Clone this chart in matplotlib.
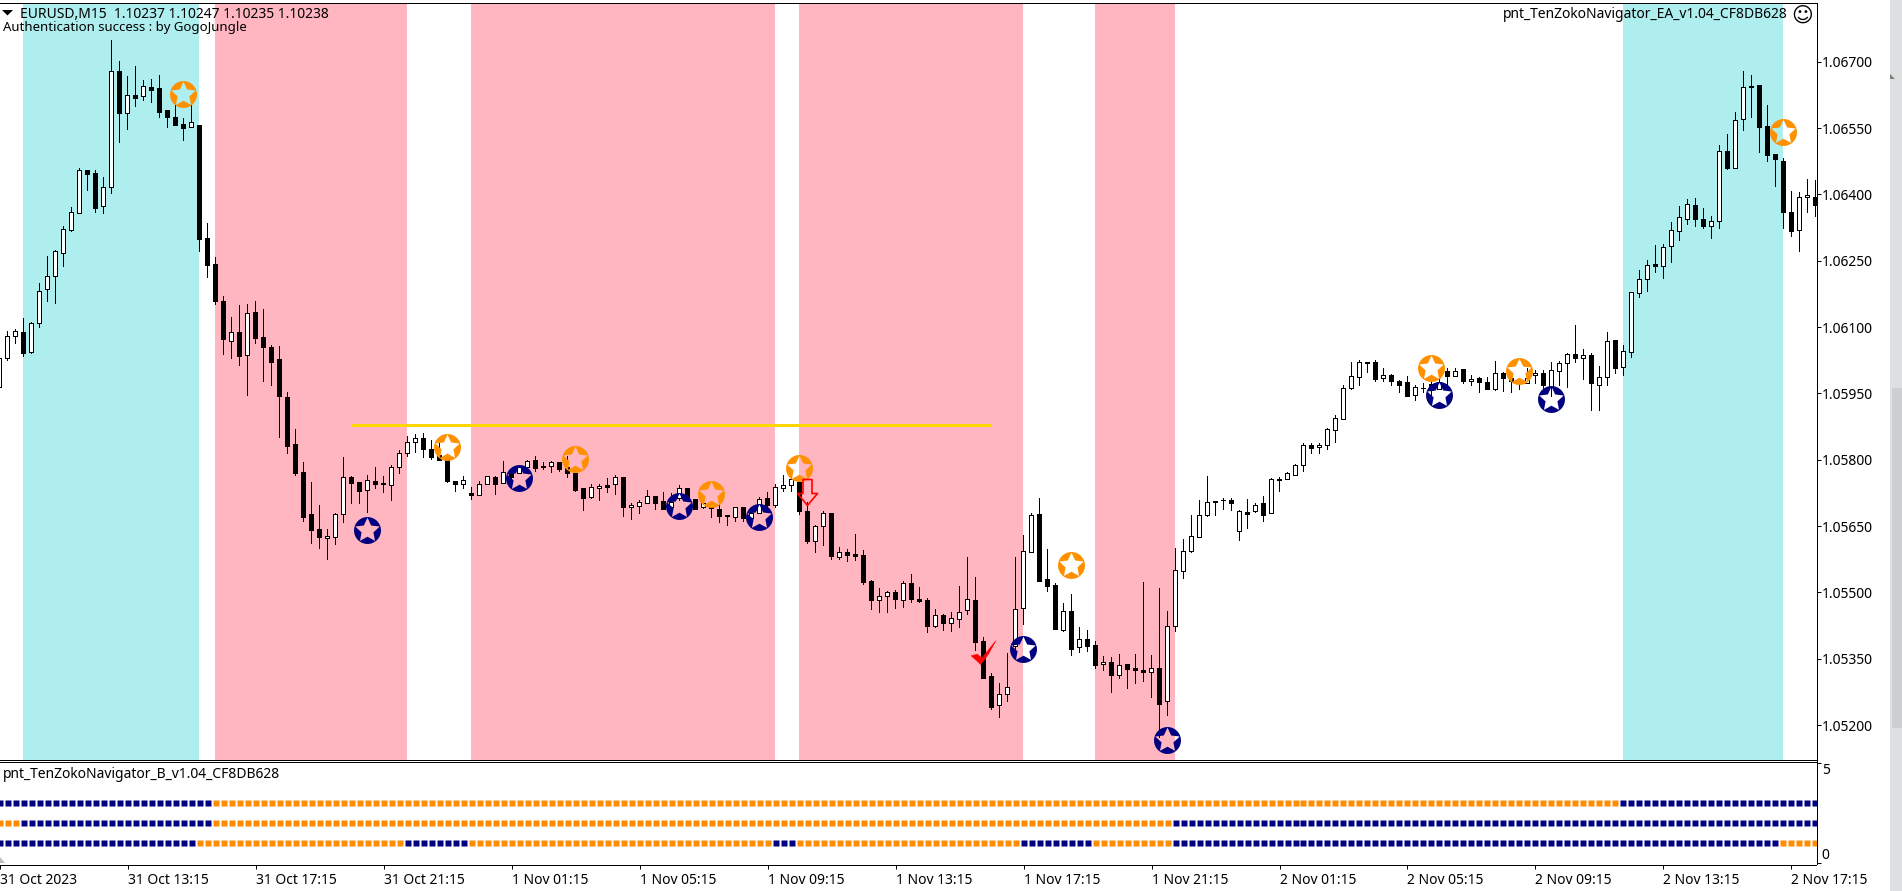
import numpy as np
import matplotlib
matplotlib.use('Agg')
import matplotlib.pyplot as plt
from matplotlib.path import Path
from matplotlib.transforms import ScaledTranslation

plt.rcParams['font.family'] = ['Noto Sans', 'DejaVu Sans']

W, H = 1902, 891

# EURUSD M15 candles, prices in points (1e-5)
opens = [105964,106029,106079,106088,106044,106109,106185,106216,106268,106320,
106359,106455,106448,106373,106416,106679,106583,106624,106622,106642,
106641,106591,106575,106559,106552,106557,106302,106242,106158,106068,
106088,106036,106134,106077,106054,106027,105941,105835,105772,105677,
105643,105622,105625,105677,105760,105749,105731,105751,105747,105742,
105783,105815,105840,105849,105824,105811,105800,105752,105744,105725,
105721,105746,105760,105748,105770,105771,105783,105799,105786,105785,
105794,105784,105771,105735,105715,105735,105742,105744,105760,105692,
105696,105703,105719,105706,105692,105713,105737,105711,105692,105692,
105689,105674,105671,105692,105669,105680,105713,105698,105737,105742,
105750,105684,105617,105649,105679,105581,105591,105586,105584,105525,
105483,105492,105500,105483,105521,105484,105482,105425,105448,105431,
105439,105459,105482,105389,105310,105245,105270,105379,105465,105592,
105677,105530,105516,105416,105457,105376,105394,105380,105337,105342,
105314,105337,105328,105324,105321,105328,105254,105423,105548,105594,
105626,105676,105704,105710,105708,105638,105681,105683,105701,105679,
105755,105756,105766,105787,105833,105828,105833,105867,105892,105962,
105987,106019,106021,105984,105991,105977,105975,105946,105963,105971,
105959,106000,105989,106005,105977,105984,105975,105961,105996,105984,
105977,105973,105991,105996,105965,106000,106018,106039,106030,106036,
105968,105987,106070,106009,106043,106177,106208,106242,106238,106283,
106317,106344,106376,106344,106328,106339,106498,106459,106570,106645,
106647,106554,106491,106475,106360,106319,106394,106395]
highs = [106030,106091,106096,106121,106112,106200,106261,106274,106329,106372,
106459,106455,106455,106440,106749,106702,106668,106691,106659,106661,
106670,106591,106610,106573,106602,106557,106336,106259,106170,106123,
106150,106152,106159,106141,106059,106057,105953,105870,105795,105750,
105698,105643,105679,105806,105763,105749,105765,105784,105763,105787,
105821,105854,105858,105861,105845,105838,105800,105752,105763,105738,
105752,105763,105763,105796,105777,105788,105800,105808,105795,105796,
105794,105808,105771,105737,105744,105744,105758,105765,105760,105701,
105709,105731,105719,105726,105725,105742,105737,105711,105705,105702,
105697,105674,105694,105692,105680,105715,105727,105744,105765,105770,
105756,105705,105652,105683,105679,105602,105597,105631,105595,105527,
105509,105502,105505,105525,105541,105511,105487,105462,105450,105456,
105514,105579,105534,105398,105317,105294,105362,105579,105629,105679,
105713,105597,105521,105475,105496,105421,105416,105389,105355,105353,
105361,105337,105361,105523,105358,105510,105458,105600,105620,105675,
105709,105763,105707,105713,105713,105686,105711,105701,105717,105758,
105760,105772,105790,105837,105837,105837,105872,105901,105968,106021,
106025,106021,106025,106007,105993,105980,105989,105968,105973,105977,
105991,106007,106007,106005,105991,105987,105987,106023,105998,105984,
105977,106007,106002,106002,106021,106023,106041,106105,106050,106041,
106011,106088,106070,106059,106179,106229,106251,106285,106287,106337,
106373,106389,106391,106369,106351,106511,106536,106586,106679,106670,
106647,106602,106491,106482,106407,106405,106434,106432]
lows = [105962,106026,106065,106035,106042,106101,106158,106155,106238,106318,
106358,106409,106361,106357,106404,106519,106549,106601,106614,106608,
106574,106553,106556,106522,106552,106273,106214,106152,106038,106029,
106015,105947,106063,105979,105970,105852,105816,105766,105662,105612,
105601,105576,105610,105660,105701,105701,105682,105735,105728,105710,
105771,105809,105818,105807,105802,105800,105750,105730,105737,105712,
105721,105744,105723,105748,105754,105769,105781,105775,105779,105773,
105775,105762,105730,105687,105714,105710,105728,105723,105673,105667,
105680,105703,105689,105688,105691,105709,105711,105689,105690,105671,
105660,105652,105662,105662,105668,105679,105695,105694,105730,105729,
105677,105612,105592,105606,105576,105576,105572,105574,105520,105463,
105456,105456,105465,105468,105479,105479,105411,105421,105416,105413,
105422,105452,105370,105307,105237,105217,105255,105370,105429,105592,
105525,105504,105417,105413,105359,105364,105368,105330,105325,105275,
105307,105284,105296,105300,105264,105174,105223,105413,105533,105592,
105625,105673,105676,105689,105687,105619,105646,105681,105662,105679,
105730,105756,105765,105774,105815,105815,105824,105839,105892,105959,
105968,105999,105979,105977,105968,105954,105943,105934,105952,105944,
105959,105967,105989,105974,105968,105954,105959,105958,105956,105954,
105959,105973,105974,105962,105943,105968,105965,106022,105982,105913,
105913,105968,105997,105992,106033,106169,106182,106225,106210,106248,
106298,106334,106329,106323,106302,106325,106457,106459,106546,106574,
106495,106476,106420,106325,106307,106273,106361,106352]
closes = [106030,106079,106091,106042,106109,106181,106215,106272,106321,106360,
106455,106447,106370,106416,106679,106583,106624,106619,106645,106637,
106587,106574,106557,106551,106563,106300,106241,106158,106072,106088,
106035,106131,106076,106054,106022,105943,105832,105771,105671,105642,
105626,105627,105677,105760,105748,105730,105754,105746,105744,105783,
105815,105840,105849,105824,105807,105800,105752,105744,105754,105721,
105744,105763,105744,105772,105761,105783,105796,105782,105784,105794,
105780,105770,105732,105714,105738,105740,105739,105760,105694,105697,
105704,105719,105703,105689,105704,105737,105713,105689,105703,105690,
105673,105672,105692,105669,105680,105712,105698,105738,105742,105756,
105685,105617,105650,105679,105583,105591,105585,105582,105523,105483,
105492,105500,105485,105521,105485,105481,105425,105448,105431,105441,
105455,105484,105388,105307,105241,105271,105285,105463,105593,105674,
105525,105515,105417,105457,105373,105394,105379,105336,105342,105312,
105335,105327,105325,105321,105328,105248,105423,105550,105593,105627,
105674,105704,105707,105708,105703,105683,105678,105697,105676,105756,
105757,105769,105787,105833,105826,105833,105869,105894,105962,105989,
106021,106021,105983,105991,105977,105970,105943,105964,105962,105958,
105975,105989,106000,105977,105982,105975,105961,105996,105984,105978,
105973,105984,105996,105968,106002,106018,106039,106030,106036,105974,
105988,106068,106007,106045,106179,106208,106240,106238,106281,106319,
106348,106378,106344,106328,106339,106498,106459,106568,106642,106642,
106553,106490,106479,106361,106318,106395,106398,106377]

# shaded zones (first bar, last bar)
teal_zones = [(3, 25), (203, 223)]
pink_zones = [(27, 51), (59, 97), (100, 128), (137, 147)]

# signal markers
orange_idx = [23, 56, 72, 89, 100, 134, 179, 190, 223]
orange_px = [106627, 105828, 105801, 105722, 105781, 105561, 106007, 106000, 106541]
blue_idx = [46, 65, 85, 95, 128, 146, 180, 194]
blue_px = [105640, 105758, 105695, 105670, 105371, 105165, 105946, 105937]

level_bars = [44, 124]
level_px = 105878
arrow_bar, arrow_px = 101, 105727
check_bar, check_px = 123, 105366

# indicator rows as run lengths: 0 navy, 1 orange
row3_runs = [(0, 27), (1, 176), (0, 25)]
row2_runs = [(1, 3), (0, 24), (1, 120), (0, 81)]
row1_runs = [(0, 25), (1, 26), (0, 8), (1, 38), (0, 3), (1, 28), (0, 9), (1, 10), (0, 76), (1, 5)]

price_ticks = [1.05200, 1.05350, 1.05500, 1.05650, 1.05800, 1.05950,
               1.06100, 1.06250, 1.06400, 1.06550, 1.06700]
time_bars = [0, 16, 32, 48, 64, 80, 96, 112, 128, 144, 160, 176, 192, 208, 224]
time_labels = ['31 Oct 2023', '31 Oct 13:15', '31 Oct 17:15', '31 Oct 21:15', '1 Nov 01:15',
               '1 Nov 05:15', '1 Nov 09:15', '1 Nov 13:15', '1 Nov 17:15', '1 Nov 21:15',
               '2 Nov 01:15', '2 Nov 05:15', '2 Nov 09:15', '2 Nov 13:15', '2 Nov 17:15']

NAVY = '#000080'
ORANGE = '#FF8C00'
PX = 0.72  # one pixel in points
FS = 10


def star_disc():
    # disc with a star shaped hole, the chart shows through the hole
    t = np.linspace(0, 2 * np.pi, 64)
    circ = np.column_stack([np.cos(t), np.sin(t)])
    a = np.pi / 2 - np.arange(11) * np.pi / 5
    r = np.where(np.arange(11) % 2 == 0, 0.95, 0.46)
    star = np.column_stack([r * np.cos(a), r * np.sin(a)])
    return Path.make_compound_path(Path(circ, closed=True), Path(star, closed=True))


def px_ax(x0, y0, x1, y1):
    return [x0 / W, 1 - y1 / H, (x1 - x0) / W, (y1 - y0) / H]


fig = plt.figure(figsize=(W / 100, H / 100), dpi=100, facecolor='white')
ax = fig.add_axes(px_ax(0, 2.5, 1816.5, 759.5))
sub = fig.add_axes(px_ax(0, 761.5, 1816.5, 864.5))
xlim = (0.0875, 227.15)

o, h, l, c = [np.array(v) / 100000 for v in (opens, highs, lows, closes)]
idx = np.arange(len(o))

for a, b in teal_zones:
    ax.axvspan(a, b, color='#AFEEEE', lw=0, zorder=0)
for a, b in pink_zones:
    ax.axvspan(a, b, color='#FFB6C1', lw=0, zorder=0)

ax.vlines(idx, l, h, color='black', lw=PX, antialiased=False, zorder=2)
up = c >= o
ax.bar(idx[up], (c - o)[up], bottom=o[up], width=0.5, facecolor='white', edgecolor='black',
       linewidth=PX, antialiased=False, zorder=3)
ax.bar(idx[~up], (o - c)[~up], bottom=c[~up], width=0.5, facecolor='black', edgecolor='black',
       linewidth=PX, antialiased=False, zorder=3)

ax.plot(level_bars, [level_px / 100000] * 2, color='#FFD700', lw=3 * PX, solid_capstyle='butt', zorder=4)

disc = star_disc()
ax.plot(np.array(orange_idx) - 0.1, np.array(orange_px) / 100000, ls='none', marker=disc, ms=19.4,
        mfc='#FF9000', mec='none', zorder=5)
ax.plot(np.array(blue_idx) - 0.1, np.array(blue_px) / 100000, ls='none', marker=disc, ms=19.4,
        mfc=NAVY, mec='none', zorder=5)

arrow = Path([(-4.5, 13), (4.5, 13), (4.5, -1), (10, -1), (0, -13), (-10, -1), (-4.5, -1), (-4.5, 13)], closed=True)
ax.plot([arrow_bar - 0.1], [arrow_px / 100000], ls='none', marker=arrow, ms=18.7, mfc='none', mec='#FF0000',
        mew=1.2, zorder=6)
tick_mark = Path([(-12.3, -3.3), (-6, -1.7), (-1.7, -5.7), (12.3, 11.7), (5, -1.5), (-2.7, -12), (-12.3, -3.3)], closed=True)
ax.plot([check_bar], [check_px / 100000], ls='none', marker=tick_mark, ms=17.7, mfc='#FF0000', mec='#FF0000',
        mew=0.4, zorder=6)

ax.set_xlim(xlim)
ax.set_ylim(1.05122, 1.068340)
ax.yaxis.tick_right()
ax.set_yticks(price_ticks)
ax.set_yticklabels(['%.5f' % p for p in price_ticks], fontsize=FS)
ax.tick_params(axis='y', length=3, width=PX, pad=0.8)
ax.set_xticks([])
ax.spines['left'].set_visible(False)
for s in ('top', 'right', 'bottom'):
    ax.spines[s].set_linewidth(PX)

for row, runs in ((3, row3_runs), (2, row2_runs), (1, row1_runs)):
    state = np.repeat([r[0] for r in runs], [r[1] for r in runs])
    for val, col in ((0, NAVY), (1, ORANGE)):
        bars = np.flatnonzero(state == val)
        sub.plot(bars, np.full(len(bars), row), ls='none', marker='s', ms=4.8, mfc=col, mec='none')

sub.set_xlim(xlim)
sub.set_ylim(-0.09, 5.06)
sub.yaxis.tick_right()
sub.set_yticks([0, 5])
sub.set_yticklabels(['0', '5'], fontsize=FS)
sub.get_yticklabels()[0].set_va('bottom')
five = sub.get_yticklabels()[1]
five.set_va('top')
five.set_transform(five.get_transform() + ScaledTranslation(0, -2 * PX / 72, fig.dpi_scale_trans))
sub.tick_params(axis='y', length=3, width=PX, pad=0.8)
sub.set_xticks(time_bars)
sub.set_xticklabels(time_labels, fontsize=FS, ha='left')
sub.tick_params(axis='x', length=3, width=PX, pad=3)
sub.spines['left'].set_visible(False)
for s in ('top', 'right', 'bottom'):
    sub.spines[s].set_linewidth(PX)

# window furniture and header texts, in pixels
top = fig.add_axes([0, 0, 1, 1], zorder=10)
top.set_xlim(0, W)
top.set_ylim(H, 0)
top.axis('off')
top.fill([1889.5, W, W, 1889.5], [0, 0, H, H], color='#DDE0E0', lw=0)
top.fill([1892, W, W, 1892], [388, 388, 728, 728], color='#CDD0D0', lw=0)
top.fill([1890, 1895, 1890], [74, 79, 79], color='#808080', lw=0)
top.fill([0, 5, 0], [857, 863, 863], color='#C0C0C0', lw=0)
top.fill([2, 13, 7.5], [10, 10, 15.5], color='black', lw=0)
top.text(20, 14, 'EURUSD,M15  1.10237 1.10247 1.10235 1.10238', fontsize=FS, va='center', ha='left')
top.text(3, 27, 'Authentication success : by GogoJungle', fontsize=9.5, va='center', ha='left')
top.text(1788, 15, 'pnt_TenZokoNavigator_EA_v1.04_CF8DB628', fontsize=FS, va='center', ha='right')
top.text(1802.5, 15.5, '\u263a', fontsize=15, va='center', ha='center', family='DejaVu Sans')
top.text(3, 774, 'pnt_TenZokoNavigator_B_v1.04_CF8DB628', fontsize=FS, va='center', ha='left')

fig.savefig('out.png', dpi=100)
